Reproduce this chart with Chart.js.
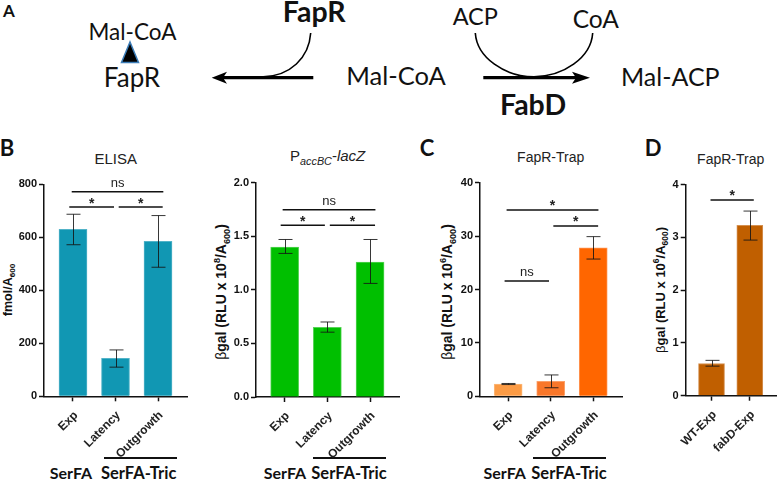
<!DOCTYPE html>
<html>
<head>
<meta charset="utf-8">
<script src="https://cdn.jsdelivr.net/npm/chart.js@4"></script>
<style>
  html, body { margin: 0; padding: 0; background: #fff; }
  #page { position: relative; width: 777px; height: 480px; overflow: hidden; color: #111; }
  canvas { position: absolute; top: 0; }
  .t { position: absolute; transform: translate(-50%, -50%); white-space: nowrap; line-height: 1; }
  .lato { font-family: Lato, sans-serif; }
  .lato.b { font-weight: 700; }
  .title { font-family: "Liberation Sans", sans-serif; font-size: 14px; color: #222; }
  .ylab { font-family: "Liberation Sans", sans-serif; font-size: 14px; font-weight: 700; transform: translate(-50%, -50%) rotate(-90deg); }
  .ylab span { font-weight: 400; }
  sub, sup { font-size: 65%; line-height: 0; }
  .rule { position: absolute; height: 1.5px; background: #111; }
  svg { position: absolute; left: 0; top: 0; }
</style>
</head>
<body>
<div id="page">
  <svg width="777" height="135">
    <path d="M313.3 77.7 H222" stroke="#000" stroke-width="3.3" fill="none"/>
    <path d="M211.7 77.7 L227 71.7 L223 77.7 L227 83.7 Z" fill="#000"/>
    <path d="M310.7 33 C309 58 290 76 263.3 76.7" stroke="#000" stroke-width="1.6" fill="none"/>
    <path d="M483.3 77.7 H580" stroke="#000" stroke-width="3.3" fill="none"/>
    <path d="M590 77.7 L572 71.7 L576 77.7 L572 83.7 Z" fill="#000"/>
    <path d="M475.3 33 C477 58 505 76.7 534 76.7 C563 76.7 591 58 592.7 33" stroke="#000" stroke-width="1.6" fill="none"/>
    <path d="M130 42 L138.5 62.5 H121.5 Z" fill="#000" stroke="#3c7db8" stroke-width="1.5"/>
  </svg>

  <div class="t lato b" style="left:9px;top:10px;font-size:17px">A</div>
  <div class="t lato" style="left:132.5px;top:31.5px;font-size:22.5px">Mal-CoA</div>
  <div class="t lato" style="left:132px;top:77px;font-size:26px">FapR</div>
  <div class="t lato b" style="left:314.2px;top:11px;font-size:28.5px">FapR</div>
  <div class="t lato" style="left:475.3px;top:17px;font-size:23.5px">ACP</div>
  <div class="t lato" style="left:595.8px;top:18.5px;font-size:24.5px">CoA</div>
  <div class="t lato" style="left:396px;top:76px;font-size:25.5px">Mal-CoA</div>
  <div class="t lato" style="left:670.3px;top:76px;font-size:25px">Mal-ACP</div>
  <div class="t lato b" style="left:533px;top:104px;font-size:28.5px">FabD</div>

  <div class="t lato b" style="left:7px;top:148px;font-size:22px">B</div>
  <div class="t lato b" style="left:427px;top:148px;font-size:22px">C</div>
  <div class="t lato b" style="left:653px;top:148px;font-size:22px">D</div>

  <div class="t title" style="left:115.7px;top:158px;font-size:15px">ELISA</div>
  <div class="t title" style="left:327.7px;top:155px;font-size:15px">P<sub style="font-size:72%"><i>accBC</i></sub>-<i>lacZ</i></div>
  <div class="t title" style="left:550.7px;top:157px">FapR-Trap</div>
  <div class="t title" style="left:730.7px;top:159px">FapR-Trap</div>

  <div class="t ylab" style="left:8px;top:290px;font-size:12.5px">fmol/A<sub>600</sub></div>
  <div class="t ylab" style="left:220.7px;top:291.7px"><span>β</span>gal (RLU x 10<sup>8</sup>/A<sub>600</sub>)</div>
  <div class="t ylab" style="left:447px;top:292px"><span>β</span>gal (RLU x 10<sup>6</sup>/A<sub>600</sub>)</div>
  <div class="t ylab" style="left:660px;top:290px;font-size:13px"><span>β</span>gal (RLU x 10<sup>6</sup>/A<sub>600</sub>)</div>

  <div class="rule" style="left:104px;top:457px;width:73px"></div>
  <div class="rule" style="left:313px;top:457px;width:73px"></div>
  <div class="rule" style="left:533px;top:457px;width:73px"></div>
  <div class="t lato b" style="left:71px;top:473px;font-size:16px">SerFA</div>
  <div class="t lato b" style="left:138.7px;top:473px;font-size:16.5px">SerFA-Tric</div>
  <div class="t lato b" style="left:285px;top:473px;font-size:16px">SerFA</div>
  <div class="t lato b" style="left:349px;top:473px;font-size:16.5px">SerFA-Tric</div>
  <div class="t lato b" style="left:504.7px;top:473px;font-size:16px">SerFA</div>
  <div class="t lato b" style="left:569px;top:473px;font-size:16.5px">SerFA-Tric</div>

  <canvas id="elisa"></canvas>
  <canvas id="lacz"></canvas>
  <canvas id="trap"></canvas>
  <canvas id="fabd"></canvas>
</div>

<script>
const phases = ['Exp', 'Latency', 'Outgrowth'];
const strains = ['WT-Exp', 'fabD-Exp'];

const elisaValues = [630, 143, 585];
const elisaHigh = [687, 175, 682];
const elisaLow = [572, 110, 487];
const elisaTicks = ['0', '200', '400', '600', '800'];

const laczValues = [1.40, 0.65, 1.26];
const laczHigh = [1.47, 0.70, 1.47];
const laczLow = [1.34, 0.605, 1.06];
const laczTicks = ['0.0', '0.5', '1.0', '1.5', '2.0'];

const trapValues = [2.3, 2.8, 27.8];
const trapHigh = [2.4, 4.0, 29.9];
const trapLow = [2.2, 1.6, 25.7];
const trapTicks = ['0', '10', '20', '30', '40'];

const fabdValues = [0.61, 3.23];
const fabdHigh = [0.67, 3.5];
const fabdLow = [0.56, 2.95];
const fabdTicks = ['0', '1', '2', '3', '4'];

// significance bars: from, to, height, label
const elisaSig = [[0.97, 3.125, 772, 'ns'], [0.913, 1.965, 714, '*'], [2.075, 3.11, 714, '*']];
const laczSig = [[0.953, 3.126, 1.748, 'ns'], [0.907, 1.942, 1.602, '*'], [2.058, 3.117, 1.602, '*']];
const trapSig = [[0.963, 3.122, 34.9, '*'], [2.062, 3.115, 31.9, '*'], [0.916, 1.96, 21.6, 'ns']];
const fabdSig = [[0.974, 2.104, 3.71, '*']];

const marksPlugin = {
    id: 'marks',
    afterDatasetsDraw(chart, args, opts) {
        const ctx = chart.ctx;
        const x = chart.scales.x;
        const y = chart.scales.y;
        ctx.save();

        // error bars
        ctx.strokeStyle = 'rgba(20,20,20,0.85)';
        ctx.lineWidth = 1;
        opts.high.forEach((h, i) => {
            const px = Math.round(x.getPixelForValue(i + 1)) + 0.5;
            const top = y.getPixelForValue(h);
            const bot = y.getPixelForValue(opts.low[i]);
            ctx.beginPath();
            ctx.moveTo(px, top);
            ctx.lineTo(px, bot);
            ctx.moveTo(px - 7, top);
            ctx.lineTo(px + 7, top);
            ctx.moveTo(px - 7, bot);
            ctx.lineTo(px + 7, bot);
            ctx.stroke();
        });

        // significance bars
        ctx.strokeStyle = '#111';
        ctx.fillStyle = '#222';
        ctx.lineWidth = 1.5;
        ctx.textAlign = 'center';
        ctx.textBaseline = 'alphabetic';
        opts.sig.forEach(s => {
            const x1 = x.getPixelForValue(s[0]);
            const x2 = x.getPixelForValue(s[1]);
            const py = y.getPixelForValue(s[2]);
            ctx.beginPath();
            ctx.moveTo(x1, py);
            ctx.lineTo(x2, py);
            ctx.stroke();
            if (s[3] === 'ns') {
                ctx.font = '13px "Liberation Sans"';
                ctx.fillText('ns', (x1 + x2) / 2, py - 4.5);
            } else {
                ctx.font = 'bold 14px "Liberation Sans"';
                ctx.fillText('*', (x1 + x2) / 2, py + 0.5);
            }
        });
        ctx.restore();
    }
};

function drawPanel(id, p) {
    const canvas = document.getElementById(id);
    const width = p.right - p.canvasLeft + 1;
    const height = 480 - 165;
    canvas.width = width;
    canvas.height = height;
    canvas.style.left = p.canvasLeft + 'px';
    canvas.style.top = '165px';

    new Chart(canvas.getContext('2d'), {
        type: 'bar',
        plugins: [marksPlugin],
        data: {
            datasets: [{
                data: p.values.map((v, i) => ({ x: i + 1, y: v })),
                backgroundColor: p.colors,
                borderColor: p.edges,
                borderWidth: 1,
                barThickness: p.barWidth
            }]
        },
        options: {
            responsive: false,
            animation: false,
            devicePixelRatio: 1,
            layout: {
                autoPadding: false,
                padding: { left: 0, right: 1, top: p.top - 165, bottom: 0 }
            },
            plugins: {
                legend: { display: false },
                title: { display: false },
                tooltip: { enabled: false },
                marks: { high: p.high, low: p.low, sig: p.sig }
            },
            scales: {
                x: {
                    type: 'linear',
                    offset: false,
                    min: p.xMin,
                    max: p.xMax,
                    grid: { offset: false, drawOnChartArea: false, drawTicks: true, tickLength: 5, tickWidth: 1.5, tickColor: '#111' },
                    border: { color: '#111', width: 1.5 },
                    ticks: {
                        color: '#222',
                        font: { family: '"Liberation Sans"', size: 12, weight: 'bold' },
                        padding: 7,
                        labelOffset: 3,
                        autoSkip: false,
                        minRotation: 45,
                        maxRotation: 45,
                        callback: v => p.labels[v - 1]
                    },
                    afterBuildTicks: axis => {
                        axis.ticks = p.labels.map((l, i) => ({ value: i + 1 }));
                    },
                    afterFit: axis => {
                        axis.height = 480 - p.bottom;
                    }
                },
                y: {
                    min: +p.ticks[0],
                    max: +p.ticks[p.ticks.length - 1],
                    grid: { drawOnChartArea: false, drawTicks: true, tickLength: 5, tickWidth: 1.5, tickColor: '#111' },
                    border: { color: '#111', width: 1.5 },
                    ticks: {
                        color: '#111',
                        font: { family: '"Liberation Sans"', size: 11, weight: 'bold' },
                        padding: 2,
                        autoSkip: false,
                        callback: (v, i) => p.ticks[i]
                    },
                    afterBuildTicks: axis => {
                        axis.ticks = p.ticks.map(t => ({ value: +t }));
                    },
                    afterFit: axis => {
                        axis.width = p.left - p.canvasLeft;
                    }
                }
            }
        }
    });
}

drawPanel('elisa', {
    canvasLeft: 14, left: 44, right: 187, top: 184.3, bottom: 396.3, xMin: 0.318, xMax: 3.682, barWidth: 28,
    labels: phases, values: elisaValues, high: elisaHigh, low: elisaLow, ticks: elisaTicks, sig: elisaSig,
    colors: '#1197b3', edges: '#52b3c8'
});
drawPanel('lacz', {
    canvasLeft: 226, left: 256, right: 399.3, top: 182.7, bottom: 397, xMin: 0.329, xMax: 3.678, barWidth: 28,
    labels: phases, values: laczValues, high: laczHigh, low: laczLow, ticks: laczTicks, sig: laczSig,
    colors: '#00bf00', edges: '#55d455'
});
drawPanel('trap', {
    canvasLeft: 452, left: 480, right: 622.7, top: 182.7, bottom: 396.3, xMin: 0.338, xMax: 3.676, barWidth: 28,
    labels: phases, values: trapValues, high: trapHigh, low: trapLow, ticks: trapTicks, sig: trapSig,
    colors: ['#fb9b45', '#f9772a', '#ff6600'], edges: ['#fcb87a', '#fba06a', '#ff9350']
});
drawPanel('fabd', {
    canvasLeft: 665, left: 685.7, right: 776, top: 184.7, bottom: 395.7, xMin: 0.326, xMax: 2.684, barWidth: 26,
    labels: strains, values: fabdValues, high: fabdHigh, low: fabdLow, ticks: fabdTicks, sig: fabdSig,
    colors: '#c05f00', edges: '#d49050'
});
</script>
</body>
</html>
